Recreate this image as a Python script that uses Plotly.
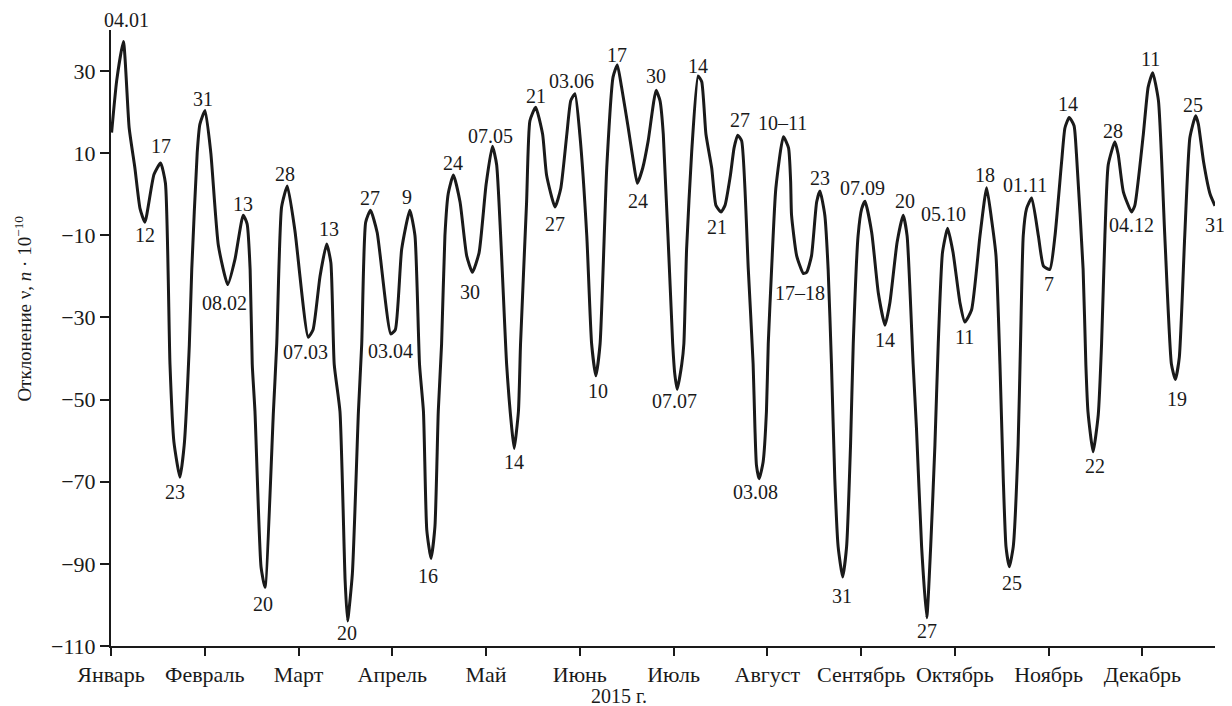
import plotly.graph_objects as go

# ---- data (x = day of 2015, y = deviation, units of 1e-10) ----
days = [0.2, 1.9, 4.1, 6.0, 7.9, 9.6, 11.2, 14.2, 16.4, 18.0, 19.5, 20.8, 22.8, 24.2, 25.9, 26.7, 28.5, 29.4,
        31.1, 33.0, 35.5, 38.6, 41.0, 43.7, 45.0, 46.0, 46.7, 47.6, 49.6, 50.9, 53.7, 54.8, 56.4, 58.3,
        60.8, 65.2, 66.8, 69.1, 71.3, 72.7, 73.8, 75.7, 77.4, 78.2, 79.8, 81.8, 82.9, 84.2, 85.8, 88.0,
        92.5, 94.0, 96.1, 98.8, 100.5, 102.0, 103.3, 104.4, 105.8, 107.1, 108.2, 109.3, 110.4, 111.5,
        113.2, 115.4, 117.6, 119.5, 121.7, 124.0, 126.1, 127.5, 130.8, 132.5, 133.3, 134.7, 135.4,
        137.4, 138.5, 140.4, 142.7, 144.0, 146.8, 148.7, 150.7, 152.0, 153.4, 155.0, 157.3, 158.9,
        160.3, 161.7, 163.9, 166.0, 167.4, 168.8, 171.0, 172.7, 174.0, 175.8, 177.6, 180.2, 181.5,
        182.6, 185.7, 186.4, 187.2, 188.7, 189.4, 190.3, 192.0, 194.1, 195.3, 196.7, 198.6, 200.0,
        201.7, 203.0, 204.8, 206.0, 207.2, 208.5, 210.7, 212.3, 212.9, 213.4, 214.3, 215.6, 216.7,
        217.3, 218.4, 219.8, 222.3, 224.0, 224.7, 225.0, 226.7, 228.9, 230.0, 231.6, 233.3, 234.4,
        236.0, 237.1, 238.2, 239.3, 240.4, 241.9, 243.2, 244.5, 245.4, 247.0, 248.2, 249.3, 251.5,
        253.7, 255.9, 257.5, 259.9, 261.9, 263.2, 265.2, 266.3, 268.0, 269.7, 271.0, 272.4, 273.5,
        274.9, 276.6, 278.4, 280.7, 282.3, 284.5, 287.3, 289.5, 291.1, 292.6, 293.9, 295.0, 295.9,
        297.0, 298.3, 299.9, 300.7, 301.6, 302.7, 304.4, 306.6, 308.3, 310.4, 312.1, 314.3, 315.4,
        316.8, 318.4, 319.2, 321.4, 322.3, 323.0, 324.7, 326.4, 327.5, 328.6, 329.7, 331.9, 333.0,
        334.7, 337.4, 338.5, 341.3, 342.9, 344.4, 346.3, 348.4, 350.6, 351.9, 353.2, 355.0, 356.7,
        358.6, 359.5, 361.2, 363.4, 365.0]
values = [15.0, 27.8, 37.2, 16.2, 6.4, -3.5, -6.8, 4.8, 7.6, 2.7, -41.4, -60.3, -68.9, -61.1, -36.6, -18.3, 10.1, 17.1,
          20.4, 10.1, -12.5, -22.0, -15.8, -5.1, -7.2, -18.3, -41.4, -52.9, -90.7, -95.7, -52.9, -36.4, -3.1, 2.0,
          -8.8, -34.8, -33.0, -20.0, -12.1, -16.7, -41.4, -52.9, -94.0, -103.9, -92.4, -52.9, -36.4, -6.8, -3.9, -9.3,
          -34.0, -33.0, -13.4, -3.9, -10.1, -41.4, -52.9, -81.7, -88.7, -80.9, -52.9, -36.4, -10.1, 0.2,
          4.7, -1.9, -15.0, -19.0, -14.2, 2.3, 11.7, 7.2, -41.4, -57.0, -61.9, -52.9, -36.4,
          -1.9, 17.9, 21.2, 14.6, 4.7, -3.1, 1.4, 14.6, 22.8, 24.5, 14.6, -10.1, -36.4,
          -44.2, -36.4, 6.4, 28.6, 31.5, 26.1, 16.2, 8.0, 2.7, 6.4, 13.0, 25.3, 22.8,
          14.6, -36.4, -43.8, -47.5, -41.4, -36.4, -13.4, 10.5, 28.8, 27.4, 14.6, 6.4, -2.7,
          -4.3, -2.7, 4.7, 11.3, 14.4, 13.0, -18.3, -41.4, -57.0, -66.0, -69.3, -65.2, -52.9,
          -36.4, -18.3, 1.4, 14.0, 11.3, 3.1, -5.1, -15.0, -19.3, -19.0, -15.0, -1.9, 0.8,
          -5.1, -18.3, -41.4, -69.3, -85.8, -93.2, -85.8, -61.1, -36.4, -10.1, -3.5, -1.7, -9.3,
          -24.1, -31.9, -26.5, -11.7, -5.1, -10.1, -41.4, -57.0, -85.8, -103.1, -85.8, -61.1, -36.4,
          -14.2, -8.3, -14.2, -26.5, -31.1, -28.2, -10.1, 1.6, -6.0, -15.0, -41.4, -69.3, -85.8,
          -90.7, -85.8, -61.1, -36.4, -10.1, -3.5, -0.9, -10.1, -17.5, -18.3, -10.1, 8.0, 16.2,
          18.7, 16.7, 9.7, -18.3, -41.4, -52.9, -62.7, -53.7, -36.4, -10.1, 7.2, 12.8, 9.7,
          0.6, -4.3, -2.7, 14.6, 26.1, 29.6, 22.8, -10.1, -41.4, -45.1, -39.7, -10.1, 13.8,
          19.1, 17.1, 8.0, 0.0, -2.8]

# extrema labels (date text, day, value)
label_text = ["04.01", "12", "17", "23", "31", "08.02", "13", "20", "28", "07.03", "13", "20",
              "27", "03.04", "9", "16", "24", "30", "07.05", "14", "21", "27", "03.06", "10",
              "17", "24", "30", "07.07", "14", "21", "27", "03.08", "10–11", "17–18", "23", "31",
              "07.09", "14", "20", "27", "05.10", "11", "18", "25", "01.11", "7", "14", "22",
              "28", "04.12", "11", "19", "25", "31"]
label_day = [4.1, 11.2, 16.4, 22.8, 31.1, 38.6, 43.7, 50.9, 58.3, 65.2, 71.3, 78.2,
             85.8, 92.5, 98.8, 105.8, 113.2, 119.5, 126.1, 133.3, 140.4, 146.8, 153.4, 160.3,
             167.4, 174.0, 180.2, 187.2, 194.1, 201.7, 207.2, 214.3, 222.3, 228.9, 234.4, 241.9,
             249.3, 255.9, 261.9, 269.7, 276.6, 282.3, 289.5, 297.0, 304.4, 310.4, 316.8, 324.7,
             331.9, 337.4, 344.4, 351.9, 358.6, 365.0]
label_value = [37.2, -6.8, 7.6, -68.9, 20.4, -22.0, -5.1, -95.7, 2.0, -34.8, -12.1, -103.9,
               -3.9, -34.0, -3.9, -88.7, 4.7, -19.0, 11.7, -61.9, 21.2, -3.1, 24.5, -44.2,
               31.5, 2.7, 25.3, -47.5, 28.8, -4.3, 14.4, -69.3, 14.0, -19.3, 0.8, -93.2,
               -1.7, -31.9, -5.1, -103.1, -8.3, -31.1, 1.6, -90.7, -0.9, -18.3, 18.7, -62.7,
               12.8, -4.3, 29.6, -45.1, 19.1, -2.8]

months = ["Январь", "Февраль", "Март", "Апрель", "Май", "Июнь", "Июль", "Август",
          "Сентябрь", "Октябрь", "Ноябрь", "Декабрь"]
month_ticks = [0, 31, 62, 93, 124, 155, 186, 217, 248, 279, 310, 341]
y_ticks = [-110, -90, -70, -50, -30, -10, 10, 30]

# ---- styling: label offsets in pixels (dx, dy; dy positive = downward) ----
label_offsets = [(3, -22), (0, 13), (0, -17), (-5, 15), (-2, -11), (-3, 18), (0, -11), (-2, 17),
                 (-2, -12), (-3, 15), (2, -15), (-1, 12), (-1, -12), (0, 17), (-3, -13), (-3, 17),
                 (0, -12), (-2, 20), (-2, -10), (0, 14), (0, -11), (0, 17), (-3, -13), (2, 15),
                 (0, -10), (1, 18), (0, -14), (-3, 12), (0, -10), (-4, 15), (2, -15), (-4, 13),
                 (-1, -14), (-3, 19), (0, -13), (-1, 19), (-3, -13), (0, 15), (2, -14), (0, 13),
                 (-4, -14), (0, 15), (-2, -13), (3, 16), (-7, -13), (-1, 15), (-1, -13), (2, 14),
                 (-2, -11), (0, 13), (-2, -14), (2, 20), (-3, -11), (0, 19)]

FONT = "Liberation Serif"
INK = "#1a1a1a"

fig = go.Figure()
fig.add_trace(go.Scatter(x=days, y=values, mode="lines",
                         line=dict(color=INK, width=3, shape="spline", smoothing=0.5),
                         hoverinfo="skip", showlegend=False))

annotations = []
for t, d, v, (dx, dy) in zip(label_text, label_day, label_value, label_offsets):
    annotations.append(dict(x=d, y=v, xref="x", yref="y", text=t, showarrow=False,
                            xanchor="center", yanchor="middle", xshift=dx, yshift=-dy,
                            font=dict(family=FONT, size=20, color=INK)))

# plot area spans 1104 x 608 px (page has an 8 px body margin)
annotations.append(dict(xref="paper", yref="paper", x=-88 / 1104, y=(638 - 305) / 608,
                        text="Отклонение ν, <i>n</i> · 10<sup>−10</sup>", textangle=-90,
                        showarrow=False, xanchor="center", yanchor="middle",
                        font=dict(family=FONT, size=19, color=INK)))
annotations.append(dict(xref="paper", yref="paper", x=(619 - 111) / 1104, y=-(687 - 638) / 608,
                        text="2015 г.", showarrow=False, xanchor="center", yanchor="middle",
                        font=dict(family=FONT, size=20, color=INK)))

fig.update_layout(
    width=1224, height=698,
    margin=dict(l=103, r=17, t=22, b=60),
    paper_bgcolor="white", plot_bgcolor="white",
    annotations=annotations,
    font=dict(family=FONT, color=INK),
)
fig.update_xaxes(range=[0, 365], tickvals=month_ticks, ticktext=months,
                 showgrid=False, zeroline=False, showline=True, linecolor=INK, linewidth=2,
                 ticks="outside", ticklen=8, tickwidth=2, tickcolor=INK,
                 tickfont=dict(family=FONT, size=22, color=INK))
fig.update_yaxes(range=[-110, 40], tickvals=y_ticks,
                 ticktext=[str(v).replace("-", "−") for v in y_ticks],
                 showgrid=False, zeroline=False, showline=True, linecolor=INK, linewidth=2,
                 ticks="outside", ticklen=9, tickwidth=2, tickcolor=INK,
                 tickfont=dict(family=FONT, size=22, color=INK))

fig.write_html("out.html")
